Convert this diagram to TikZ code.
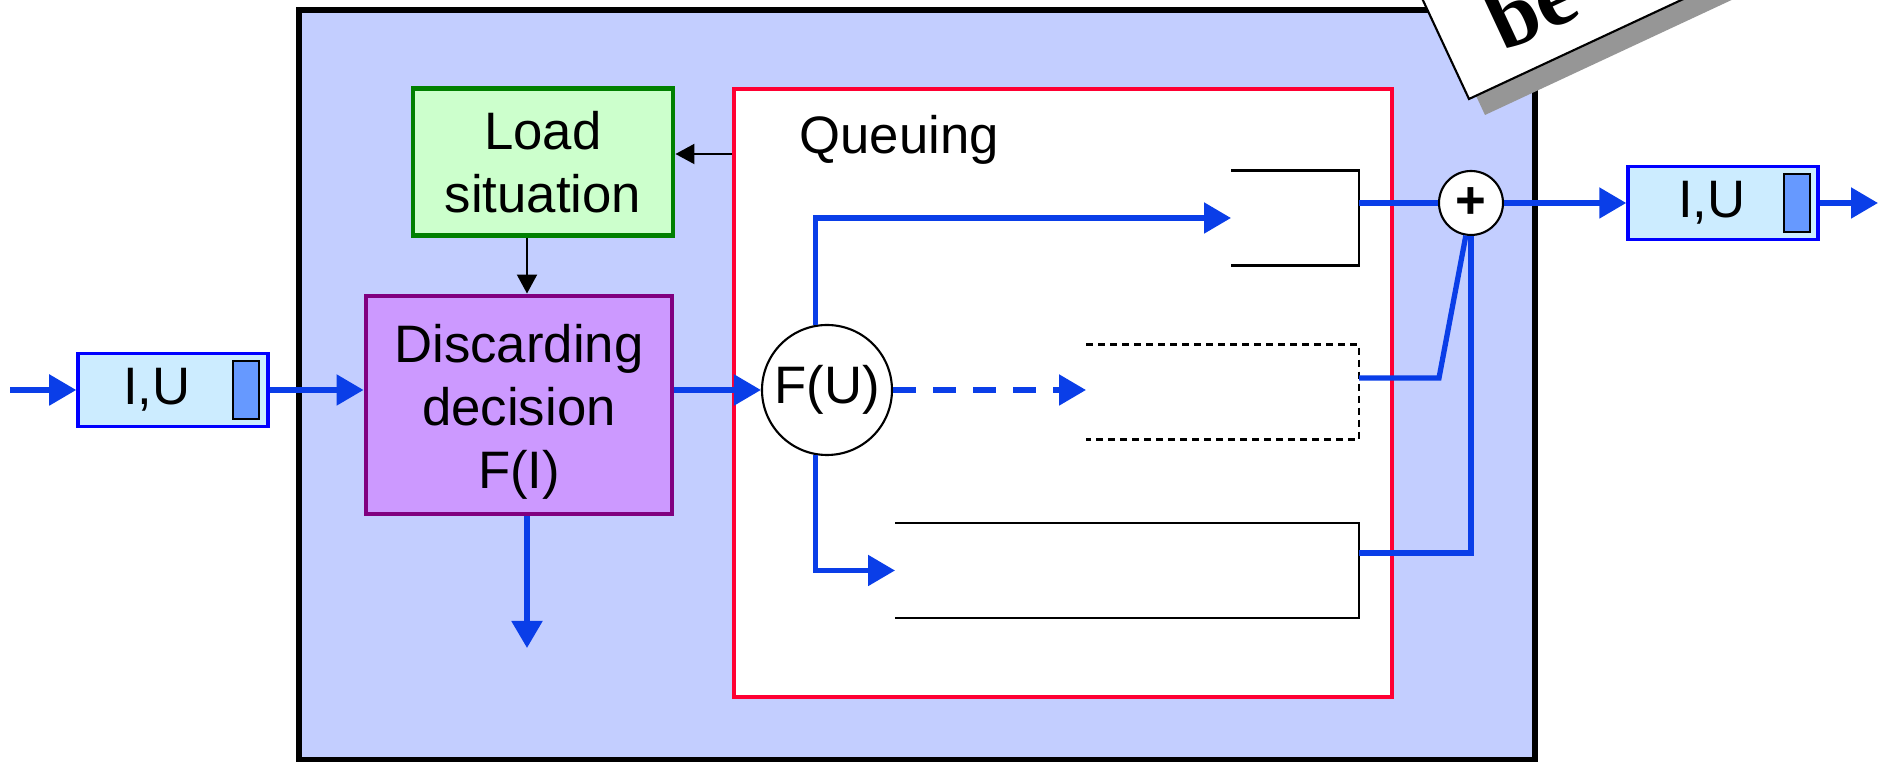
\documentclass[tikz,border=0pt]{standalone}
\usepackage{fontspec}
\setmainfont{Liberation Sans}
\newfontfamily\cardfont{Liberation Serif}
\usetikzlibrary{arrows.meta}
\definecolor{sysbg}{RGB}{195,206,255}
\definecolor{flowblue}{RGB}{10,62,232}
\definecolor{pktfill}{RGB}{204,236,255}
\definecolor{pktbar}{RGB}{102,153,255}
\definecolor{loadfill}{RGB}{204,255,204}
\definecolor{loadline}{RGB}{0,128,0}
\definecolor{dropfill}{RGB}{204,153,255}
\definecolor{dropline}{RGB}{128,0,128}
\definecolor{queuered}{RGB}{255,0,51}
\definecolor{shadowgray}{RGB}{150,150,150}
\begin{document}
\begin{tikzpicture}[
  font=\fontsize{15}{18}\selectfont,
  flow/.style={draw=flowblue, line width=1.5pt, -{Triangle[length=0.27cm,width=0.3cm]}},
  wire/.style={draw=flowblue, line width=1.5pt},
  ctrl/.style={draw=black, line width=0.6pt, -{Triangle[length=0.19cm,width=0.2cm]}},
  block/.style={draw, line width=1.4pt, inner sep=0pt, align=center},
  packet/.style={draw=blue, fill=pktfill, line width=1pt, minimum width=1.9cm, minimum height=0.73cm, inner sep=0pt},
  bar/.style={draw=black, fill=pktbar, line width=0.6pt, minimum width=0.26cm, minimum height=0.58cm, inner sep=0pt},
  queue/.style={minimum height=0.95cm, inner sep=0pt, outer sep=0pt},
  queueline/.style={line width=0.6pt},
  junction/.style={circle, draw, fill=white, line width=0.6pt, inner sep=0pt}
]
  \useasboundingbox (0,0) rectangle (18.78,7.62);
  % 外框：整个节点
  \node[draw, fill=sysbg, line width=1.5pt, minimum width=12.36cm, minimum height=7.5cm] (system) at (9.17,3.77) {};
  % 红框：排队部分
  \node[draw=queuered, fill=white, line width=1.2pt, minimum width=6.58cm, minimum height=6.08cm] (queuing) at (10.63,3.69) {};
  \node[anchor=base west] (qlabel) at (7.87,6.08) {Queuing};
  % 负载与丢弃判决
  \node[block, draw=loadline, fill=loadfill, minimum width=2.6cm, minimum height=1.47cm] (load) at (5.43,6.0) {Load\\situation};
  \node[block, draw=dropline, fill=dropfill, minimum width=3.06cm, minimum height=2.18cm] (discard) at (5.19,3.57) {};
  \node[align=center] (discardtext) at ([yshift=-0.07cm]discard.center) {Discarding\\decision\\F(I)};
  % 输入、输出分组
  \node[packet] (inpkt) at (1.73,3.72) {};
  \node (intext) at (1.57,3.72) {I,U};
  \node[bar] (inbar) at (2.46,3.72) {};
  \node[packet] (outpkt) at (17.23,5.59) {};
  \node (outtext) at (17.12,5.59) {I,U};
  \node[bar] (outbar) at (17.97,5.59) {};
  % 分类与合并
  \node[junction, minimum size=1.3cm] (fu) at (8.27,3.72) {F(U)};
  \node[junction, minimum size=0.64cm, font=\fontsize{15}{18}\selectfont\bfseries] (plus) at (14.71,5.59) {+};
  % 队列（开口向左）
  \foreach \name/\cx/\cy/\w in {q1/12.95/5.44/1.28, q3/11.27/1.915/4.64} {
    \node[queue, minimum width=\w cm] (\name) at (\cx,\cy) {};
    \draw[queueline] (\name.north west) -- (\name.north east) -- (\name.south east) -- (\name.south west);
  }
  \node[queue, minimum width=2.73cm] (q2) at (12.225,3.70) {};
  \draw[queueline, dash pattern=on 0.07cm off 0.05cm] (q2.north west) -- (q2.north east) -- (q2.south east) -- (q2.south west);
  % 数据流（蓝）
  \coordinate (inbeg) at (0.10,3.72);
  \coordinate (drop) at (5.27,1.14);
  \coordinate (outend) at (18.78,5.59);
  \draw[flow] (inbeg) -- (inpkt.west);
  \draw[flow] (inpkt.east) -- (inpkt.east -| discard.west);
  \draw[flow] (discard.east |- fu) -- (fu.west);
  \draw[flow] (discard.south -| drop) -- (drop);
  \draw[flow] (fu.100) |- (q1.west);
  \draw[flow] (fu.260) |- (q3.west);
  \draw[flow, dash pattern=on 0.23cm off 0.17cm] (fu.east) -- (fu.east -| q2.west);
  \draw[wire] (plus -| q1.east) -- (plus.west);
  \draw[wire] ([yshift=0.14cm]q2.east) -- ++(0.80,0) -- (plus.261);
  \draw[wire] ([yshift=0.175cm]q3.east) -| (plus.south);
  \draw[flow] (plus.east) -- (plus.east -| outpkt.west);
  \draw[flow] (outpkt.east) -- (outend);
  % 控制信息（黑）
  \coordinate (fb) at ([yshift=0.08cm]load.east);
  \draw[ctrl] (fb -| queuing.west) -- (fb);
  \draw[ctrl] ([xshift=-0.16cm]load.south) -- ([xshift=-0.16cm]load.south |- discard.north);
  % 右上角的卡片
  \begin{scope}
    \clip (0,0) rectangle (18.78,7.62);
    \fill[shadowgray, shift={(14.85,6.47)}, rotate=25] (0,0) rectangle (6,3);
    \begin{scope}[shift={(14.69,6.63)}, rotate=25]
      \draw[fill=white, line width=0.6pt] (0,0) rectangle (6,3);
      \node[anchor=base west, rotate=25, inner sep=0pt, font=\fontsize{25}{29}\cardfont\bfseries] (note) at (0.50,0.28) {be};
    \end{scope}
  \end{scope}
\end{tikzpicture}
\end{document}
